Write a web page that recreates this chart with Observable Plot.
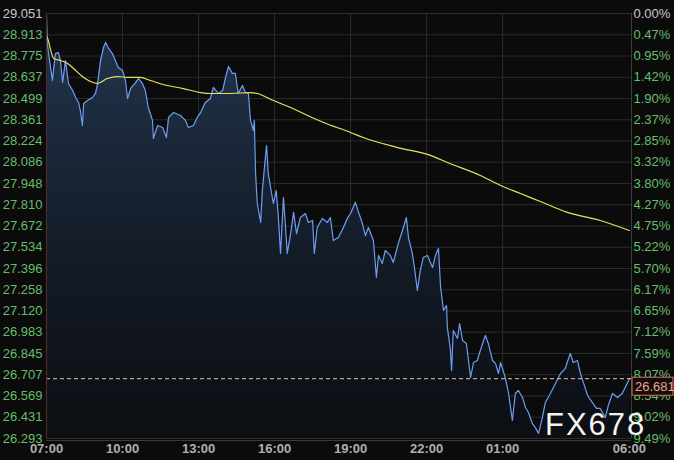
<!DOCTYPE html>
<html><head><meta charset="utf-8">
<script src="https://cdn.jsdelivr.net/npm/d3@7"></script>
<script src="https://cdn.jsdelivr.net/npm/@observablehq/plot@0.6"></script>
<style>
html,body{margin:0;padding:0;background:#0b0b0b;}
#chart{width:674px;height:460px;overflow:hidden;}
</style></head><body><div id="chart"></div>
<script>
// minutes after 07:00
const priceMinutes = [0,2,5,14,21,28,33,38,45,52,62,69,76,80,85,88,97,109,116,121,128,135,140,147,156,163,170,180,187,192,199,211,218,227,234,241,251,253,263,275,284,289,301,317,329,336,348,357,365,376,388,395,407,417,424,431,440,447,454,464,471,478,483,490,492,495,499,507,511,516,521,525,533,537,544,549,554,561,566,570,578,585,592,601,613,620,630,634,641,653,665,672,679,691,703,712,720,731,739,748,755,762,774,781,786,795,802,814,821,833,845,852,857,866,871,878,885,892,902,914,921,928,933,940,947,949,956,959,963,973,978,985,994,999,1004,1011,1020,1027,1039,1046,1056,1063,1070,1075,1086,1094,1103,1110,1117,1127,1134,1141,1150,1157,1165,1174,1181,1193,1205,1217,1228,1240,1247,1257,1264,1271,1281,1292,1302,1311,1323,1330,1340,1352,1363,1370,1380];
const priceValues = [29.038,28.856,28.791,28.616,28.791,28.798,28.746,28.603,28.746,28.597,28.551,28.506,28.473,28.422,28.324,28.467,28.486,28.506,28.532,28.597,28.746,28.830,28.863,28.824,28.791,28.746,28.701,28.681,28.616,28.499,28.564,28.603,28.629,28.597,28.551,28.441,28.357,28.240,28.324,28.311,28.246,28.376,28.409,28.389,28.357,28.311,28.324,28.376,28.409,28.473,28.499,28.571,28.532,28.551,28.636,28.707,28.662,28.662,28.532,28.584,28.538,28.532,28.357,28.292,28.357,28.013,27.818,27.695,27.902,28.052,28.194,28.013,27.883,27.818,27.902,27.727,27.494,27.857,27.662,27.494,27.623,27.760,27.623,27.727,27.753,27.695,27.708,27.494,27.662,27.721,27.695,27.727,27.578,27.597,27.662,27.721,27.753,27.825,27.760,27.688,27.610,27.662,27.578,27.338,27.481,27.429,27.513,27.481,27.435,27.559,27.662,27.727,27.597,27.494,27.403,27.254,27.383,27.468,27.481,27.403,27.481,27.526,27.273,27.124,27.156,27.013,26.877,26.734,26.994,26.942,27.039,26.929,26.910,26.799,26.689,26.786,26.799,26.864,26.962,26.910,26.799,26.780,26.715,26.786,26.689,26.585,26.410,26.585,26.605,26.559,26.494,26.462,26.391,26.365,26.326,26.429,26.527,26.585,26.650,26.715,26.747,26.845,26.786,26.799,26.715,26.657,26.572,26.527,26.488,26.488,26.429,26.507,26.585,26.559,26.585,26.624,26.681];

const maMinutes = [0,2,17,33,50,64,88,104,121,144,168,192,222,246,286,324,365,388,436,483,499,537,578,618,656,720,750,831,909,949,1027,1075,1122,1169,1233,1311,1380];
const maValues = [28.908,28.895,28.759,28.746,28.727,28.694,28.636,28.610,28.597,28.629,28.642,28.636,28.636,28.616,28.584,28.564,28.538,28.532,28.532,28.538,28.532,28.486,28.441,28.389,28.344,28.279,28.246,28.181,28.130,28.084,28.000,27.935,27.883,27.831,27.760,27.708,27.643];

const yTicks = [29.051,28.913,28.775,28.637,28.499,28.361,28.224,28.086,27.948,27.810,27.672,27.534,27.396,27.258,27.120,26.983,26.845,26.707,26.569,26.431,26.293];
const yTickLabels = ["29.051","28.913","28.775","28.637","28.499","28.361","28.224","28.086","27.948","27.810","27.672","27.534","27.396","27.258","27.120","26.983","26.845","26.707","26.569","26.431","26.293"];
const pctLabels = ["0.00%","0.47%","0.95%","1.42%","1.90%","2.37%","2.85%","3.32%","3.80%","4.27%","4.75%","5.22%","5.70%","6.17%","6.65%","7.12%","7.59%","8.07%","8.54%","9.02%","9.49%"];
const xTickMinutes = [0,180,360,540,720,900,1080,1380];
const xTickLabels = ["07:00","10:00","13:00","16:00","19:00","22:00","01:00","06:00"];
const lastPrice = 26.681;
const lastLabel = "26.681";
const watermark = "FX678";

const price = priceMinutes.map((m, i) => ({m, v: priceValues[i]}));
const ma = maMinutes.map((m, i) => ({m, v: maValues[i]}));
const yT = yTicks.map((v, i) => ({v, label: yTickLabels[i], pct: pctLabels[i]}));
const xT = xTickMinutes.map((m, i) => ({m, label: xTickLabels[i]}));
const yMin = yTicks[yTicks.length - 1];
const xMax = 1385;

const font = "'Liberation Sans', Arial, sans-serif";
const green = "#68bd6c";
const grayLbl = "#c8c8c8";

const chart = Plot.plot({
  width: 674, height: 460,
  marginLeft: 46, marginRight: 43, marginTop: 13, marginBottom: 22,
  style: {background: "#0b0b0b", fontFamily: font, fontSize: "13px"},
  x: {domain: [0, xMax], axis: null},
  y: {domain: [yMin, yTicks[0]], axis: null},
  marks: [
    Plot.ruleY(yT, {y: "v", stroke: "#2c2c2c", strokeWidth: 1}),
    Plot.ruleX(xT.slice(1, -1), {x: "m", stroke: "#2c2c2c", strokeWidth: 1}),
    Plot.areaY(price, {x: "m", y1: yMin, y2: "v", fill: "url(#priceGrad)"}),
    Plot.line(price, {x: "m", y: "v", stroke: "#6d9df0", strokeWidth: 1.2}),
    Plot.line(ma, {x: "m", y: "v", stroke: "#e8e25c", strokeWidth: 1.2, curve: "monotone-x"}),
    Plot.ruleY([lastPrice], {stroke: "#f0c4a6", strokeWidth: 1, strokeDasharray: "4,3"}),
    Plot.ruleX([0], {stroke: "#4a2c2c", strokeWidth: 1.2}),
    Plot.ruleX([xMax], {stroke: "#3c3c3c", strokeWidth: 1}),
    Plot.ruleY([yMin], {dy: 2, stroke: "#3a3a3a", strokeWidth: 1}),
    Plot.text(yT.slice(0, 1), {y: "v", text: "label", frameAnchor: "left", textAnchor: "end", dx: -4, fill: grayLbl, fontSize: 13}),
    Plot.text(yT.slice(1), {y: "v", text: "label", frameAnchor: "left", textAnchor: "end", dx: -4, fill: green, fontSize: 13}),
    Plot.text(yT.slice(0, 1), {y: "v", text: "pct", frameAnchor: "right", textAnchor: "start", dx: 2, fill: grayLbl, fontSize: 13}),
    Plot.text(yT.slice(1), {y: "v", text: "pct", frameAnchor: "right", textAnchor: "start", dx: 2, fill: green, fontSize: 13}),
    Plot.text(xT, {x: "m", text: "label", frameAnchor: "bottom", dy: 14, fill: "#b0b0b0", fontSize: 13, fontWeight: "bold"})
  ]
});

const svg = d3.select(chart);
const defs = svg.insert("defs", ":first-child");
const g = defs.append("linearGradient").attr("id", "priceGrad")
  .attr("gradientUnits", "userSpaceOnUse").attr("x1", 0).attr("x2", 0).attr("y1", 13).attr("y2", 438);
g.append("stop").attr("offset", 0).attr("stop-color", "#23364f");
g.append("stop").attr("offset", 0.55).attr("stop-color", "#141c28");
g.append("stop").attr("offset", 1).attr("stop-color", "#0c0e12");

const ys = chart.scale("y");
const yy = ys.apply(lastPrice);
svg.append("rect").attr("x", 632).attr("y", yy - 1).attr("width", 41).attr("height", 18)
  .attr("fill", "#140c0c").attr("stroke", "#d8735f").attr("stroke-width", 1);
svg.append("text").attr("x", 635).attr("y", yy + 8).attr("dy", "0.36em").attr("text-anchor", "start")
  .attr("fill", "#f1a485").attr("font-family", font).attr("font-size", 13).text(lastLabel);
svg.append("text").attr("x", 545).attr("y", 435).attr("text-anchor", "start")
  .attr("fill", "#f4f4f4").attr("font-family", font).attr("font-size", 31)
  .attr("letter-spacing", 2).text(watermark);

document.getElementById("chart").appendChild(chart);
</script>
</body></html>
